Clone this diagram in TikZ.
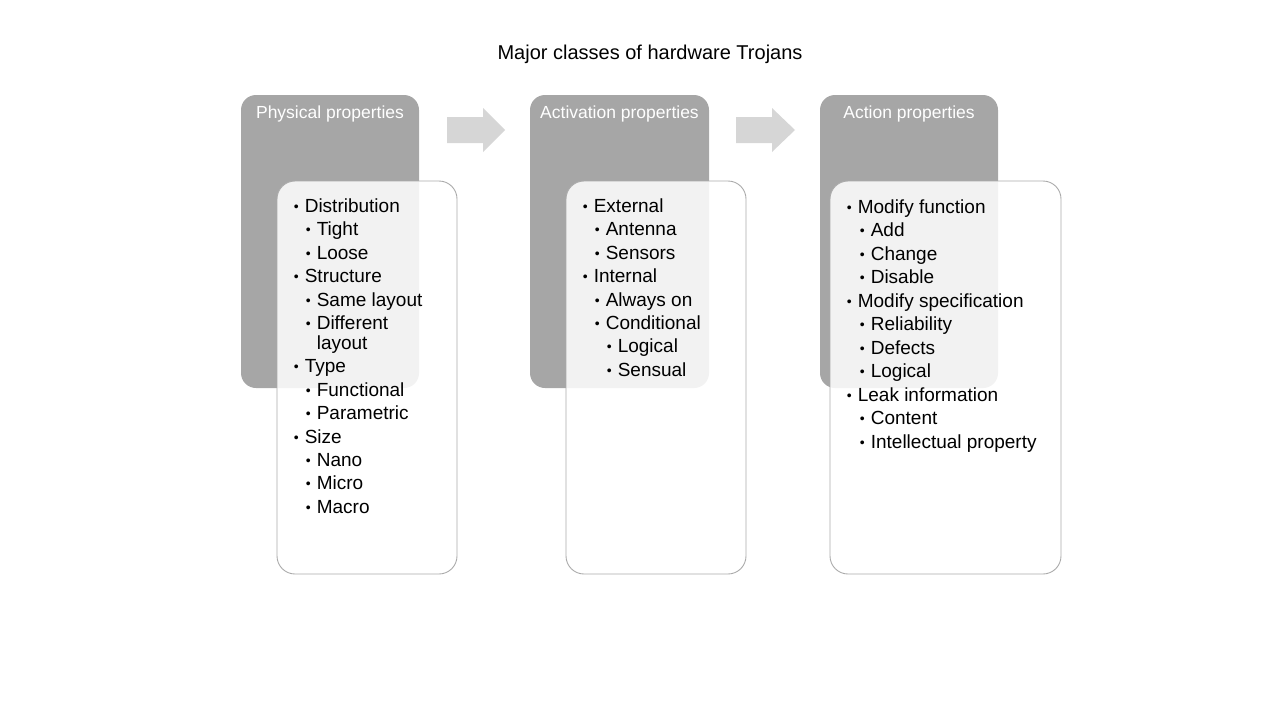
\documentclass[tikz,border=0pt]{standalone}
\usepackage{fontspec}
\setmainfont{Liberation Sans}
\definecolor{boxgray}{HTML}{A6A6A6}
\definecolor{linegray}{HTML}{ABABAB}
\definecolor{arrowgray}{HTML}{D6D6D6}
\newcommand{\smbul}{\makebox[11.9pt][l]{\hspace{0.9pt}\raisebox{0.6pt}{\fontsize{14}{14}\selectfont\textbullet}}}
\begin{document}
\begin{tikzpicture}[x=1pt,y=-1pt,
  graybox/.style={fill=boxgray, draw=none, rounded corners=15pt, inner sep=0pt},
  listbox/.style={fill=white, fill opacity=0.86, draw=linegray, line width=0.9pt, rounded corners=18pt, inner sep=0pt},
  hdr/.style={text=white, anchor=base, inner sep=0pt, font=\fontsize{17.5}{20}\selectfont},
  item/.style={anchor=base west, inner sep=0pt, font=\fontsize{19}{23}\selectfont},
  blockarrow/.style={fill=arrowgray, draw=none}]
\useasboundingbox (0,0) rectangle (1280,720);
% title
\node[anchor=base, inner sep=0pt, font=\fontsize{20}{24}\selectfont] (title) at (650,59) {Major classes of hardware Trojans};
% gray header boxes
\node[graybox, minimum width=178pt, minimum height=293pt] (g1) at (330,241.5) {};
\node[graybox, minimum width=179pt, minimum height=293pt] (g2) at (619.5,241.5) {};
\node[graybox, minimum width=178pt, minimum height=293pt] (g3) at (909,241.5) {};
\node[hdr] (h1) at (330,118) {Physical properties};
\node[hdr] (h2) at (619.5,118) {Activation properties};
\node[hdr] (h3) at (909,118) {Action properties};
% block arrows
\fill[blockarrow] (447,117) -- (483,117) -- (483,108) -- (505,130) -- (483,152) -- (483,143) -- (447,143) -- cycle;
\fill[blockarrow] (736,117) -- (772,117) -- (772,108) -- (795,130) -- (772,152) -- (772,143) -- (736,143) -- cycle;
% list boxes
\node[listbox, minimum width=180pt, minimum height=393pt] (l1) at (367,377.5) {};
\node[listbox, minimum width=180pt, minimum height=393pt] (l2) at (656,377.5) {};
\node[listbox, minimum width=231pt, minimum height=393pt] (l3) at (945.5,377.5) {};
% physical list
\foreach \x/\y/\t [count=\i] in {292.7/212/Distribution, 304.7/235.5/Tight, 304.7/259/Loose,
  292.7/282.5/Structure, 304.7/306/Same layout, 304.7/329/Different,
  292.7/372.5/Type, 304.7/396/Functional, 304.7/419.5/Parametric,
  292.7/443/Size, 304.7/466/Nano, 304.7/489.5/Micro, 304.7/513/Macro}
  \node[item] (p\i) at (\x,\y) {\smbul\t};
\node[item] (p6b) at (316.6,349.5) {layout};
% activation list
\foreach \x/\y/\t [count=\i] in {581.7/212/External, 593.7/235.5/Antenna, 593.7/259/Sensors,
  581.7/282.5/Internal, 593.7/306/Always on, 593.7/329/Conditional,
  605.7/352.5/Logical, 605.7/376/Sensual}
  \node[item] (a\i) at (\x,\y) {\smbul\t};
% action list
\foreach \x/\y/\t [count=\i] in {845.7/213/Modify function, 858.7/236.5/Add, 858.7/260/Change,
  858.7/283.5/Disable, 845.7/307/Modify specification, 858.7/330.5/Reliability,
  858.7/354/Defects, 858.7/377.5/Logical, 845.7/401/Leak information,
  858.7/424.5/Content, 858.7/448/Intellectual property}
  \node[item] (c\i) at (\x,\y) {\smbul\t};
\end{tikzpicture}
\end{document}
